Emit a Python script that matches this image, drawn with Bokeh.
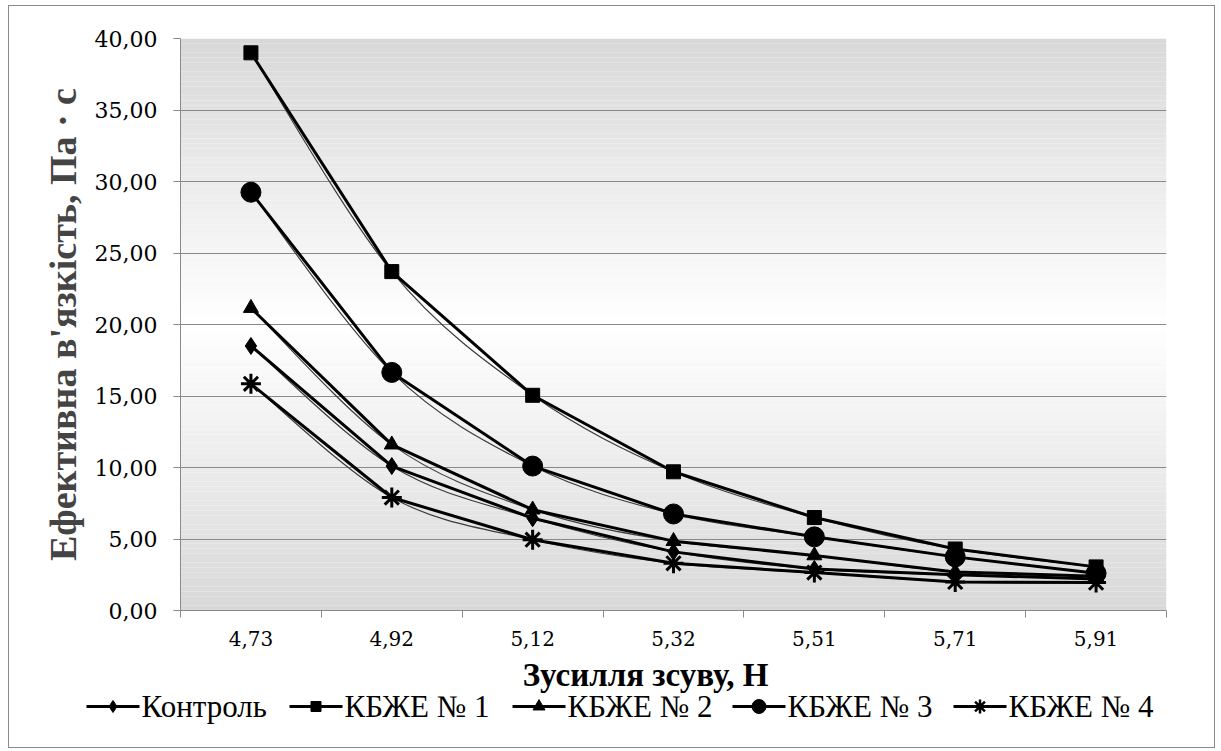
import numpy as np
from bokeh.plotting import figure
from bokeh.layouts import column, row
from bokeh.models import FixedTicker, Range1d, Label, ColumnDataSource
from bokeh.core.properties import value
from bokeh.embed import file_html
from bokeh.resources import INLINE

# ---- data ----
categories = ["4,73", "4,92", "5,12", "5,32", "5,51", "5,71", "5,91"]
series_names = ["Контроль", "КБЖЕ № 1", "КБЖЕ № 2", "КБЖЕ № 3", "КБЖЕ № 4"]
kontrol = [18.5, 10.1, 6.45, 4.1, 2.9, 2.5, 2.2]
kbzhe1 = [39.0, 23.7, 15.05, 9.7, 6.5, 4.3, 3.05]
kbzhe2 = [21.15, 11.6, 7.05, 4.85, 3.85, 2.7, 2.4]
kbzhe3 = [29.25, 16.65, 10.1, 6.75, 5.15, 3.75, 2.6]
kbzhe4 = [15.85, 7.9, 4.95, 3.3, 2.65, 2.0, 1.95]
y_ticks = [0, 5, 10, 15, 20, 25, 30, 35, 40]
y_tick_labels = ["0,00", "5,00", "10,00", "15,00", "20,00", "25,00", "30,00", "35,00", "40,00"]
x_title = "Зусилля зсуву, Н"
y_title = "Ефективна в'язкість, Па · с"

series = [kontrol, kbzhe1, kbzhe2, kbzhe3, kbzhe4]
markers = ["diamond", "square", "triangle", "circle", "asterisk"]
msizes = [17, 14, 15, 20, 20]
legend_msizes = [12, 10, 12, 14, 14]

xs = list(range(1, len(categories) + 1))

SERIF = "Liberation Serif"
W = 1205
H1 = 650
H2 = 741 - H1
FL, FT, FW, FH = 171, 32, 986, 572

p = figure(width=W, height=H1, output_backend="svg", toolbar_location=None,
           x_range=Range1d(0.5, len(categories) + 0.5), y_range=Range1d(0, 40),
           min_border_left=FL, min_border_top=FT,
           min_border_right=W - FL - FW, min_border_bottom=H1 - FT - FH)
p.outline_line_color = None
p.background_fill_color = "white"
p.border_fill_color = "white"

# gradient background (gray - white - gray)
nb = 120
edges = np.linspace(0, 40, nb + 1)
cols = []
for i in range(nb):
    t = (i + 0.5) / nb
    g = int(round(216 + (255 - 216) * (1 - abs(2 * t - 1))))
    cols.append("#%02x%02x%02x" % (g, g, g))
p.quad(left=0.5, right=len(categories) + 0.5, bottom=edges[:-1], top=edges[1:],
       fill_color=cols, line_color=None, level="image")

# grid
p.xgrid.visible = False
p.ygrid.ticker = FixedTicker(ticks=y_ticks)
p.ygrid.grid_line_color = "#8a8a8a"
p.ygrid.grid_line_width = 1
p.ygrid.level = "underlay"

# axes
p.yaxis.ticker = FixedTicker(ticks=y_ticks)
p.yaxis.major_label_overrides = {t: l for t, l in zip(y_ticks, y_tick_labels)}
p.yaxis.axis_line_color = "#8a8a8a"
p.yaxis.major_tick_line_color = "#8a8a8a"
p.yaxis.major_tick_out = 7
p.yaxis.major_tick_in = 0
p.yaxis.minor_tick_line_color = None
p.yaxis.major_label_text_font = "DejaVu Serif"
p.yaxis.major_label_text_font_size = "22px"
p.yaxis.major_label_text_color = "black"
p.yaxis.major_label_standoff = 16
p.yaxis.axis_label = y_title
p.yaxis.axis_label_text_font = SERIF
p.yaxis.axis_label_text_font_style = "bold"
p.yaxis.axis_label_text_font_size = "38px"
p.yaxis.axis_label_standoff = 8

p.xaxis.ticker = FixedTicker(ticks=xs, minor_ticks=[x - 0.5 for x in xs] + [xs[-1] + 0.5])
p.xaxis.major_label_overrides = {x: c for x, c in zip(xs, categories)}
p.xaxis.axis_line_color = "#8a8a8a"
p.xaxis.major_tick_line_color = None
p.xaxis.major_tick_out = 7
p.xaxis.minor_tick_line_color = "#8a8a8a"
p.xaxis.minor_tick_out = 7
p.xaxis.minor_tick_in = 0
p.xaxis.major_label_text_font = "DejaVu Serif"
p.xaxis.major_label_text_font_size = "20px"
p.xaxis.major_label_text_color = "black"
p.xaxis.major_label_standoff = 13

# thin smoothed lines through each series (Catmull-Rom as Bezier segments)
for vals in series:
    n = len(vals)
    px = [xs[0]] + xs + [xs[-1]]
    py = [vals[0]] + list(vals) + [vals[-1]]
    x0, y0, x1, y1, cx0, cy0, cx1, cy1 = [], [], [], [], [], [], [], []
    for i in range(n - 1):
        a, b, c, d = i, i + 1, i + 2, i + 3
        x0.append(px[b]); y0.append(py[b])
        x1.append(px[c]); y1.append(py[c])
        cx0.append(px[b] + (px[c] - px[a]) / 6.0)
        cy0.append(py[b] + (py[c] - py[a]) / 6.0)
        cx1.append(px[c] - (px[d] - px[b]) / 6.0)
        cy1.append(py[c] - (py[d] - py[b]) / 6.0)
    p.bezier(x0=x0, y0=y0, x1=x1, y1=y1, cx0=cx0, cy0=cy0, cx1=cx1, cy1=cy1,
             line_color="#3c3c3c", line_width=1.2)

for vals, m, s in zip(series, markers, msizes):
    p.line(xs, vals, line_color="black", line_width=3)
    p.scatter(xs, vals, marker=m, size=s, fill_color="black", line_color="black",
              line_width=3 if m == "asterisk" else 1)

# strip below the chart: x-axis title + legend (pixel coordinates)
p2 = figure(width=W, height=H2, output_backend="svg", toolbar_location=None,
            x_range=Range1d(0, W), y_range=Range1d(0, H2),
            x_axis_type=None, y_axis_type=None,
            min_border_left=0, min_border_right=0, min_border_top=0, min_border_bottom=0)
p2.outline_line_color = None
p2.xgrid.visible = False
p2.ygrid.visible = False
p2.border_fill_color = "white"
p2.background_fill_color = "white"

p2.add_layout(Label(x=636, y=H2 - 18, x_units="screen", y_units="screen",
                    text=x_title, text_align="center", text_baseline="middle",
                    text_font=SERIF, text_font_style="bold",
                    text_font_size="33px", text_color="black"))

# legend layout
glyph_w = 53
item_starts = [77, 280, 503, 723, 944]
legend_y = 41
leg = ColumnDataSource(dict(
    gx0=item_starts,
    gx1=[g + glyph_w for g in item_starts],
    gxc=[g + glyph_w / 2 for g in item_starts],
    tx=[g + glyph_w + 2 for g in item_starts],
    y=[legend_y] * len(item_starts),
    name=series_names,
    marker=markers,
    size=legend_msizes,
    lw=[2.5 if m == "asterisk" else 1 for m in markers],
))
p2.segment(x0="gx0", x1="gx1", y0="y", y1="y", source=leg, line_color="black", line_width=3)
p2.scatter(x="gxc", y="y", marker="marker", size="size", source=leg,
           fill_color="black", line_color="black", line_width="lw")
p2.text(x="tx", y="y", text="name", source=leg, text_font=value(SERIF),
        text_font_size="31px", text_baseline="middle", text_align="left",
        text_color="black")

layout = column(p, row(p2), spacing=0)
layout.margin = (5, 0, 0, 8)
layout.styles = {"border": "1px solid #8a8a8a", "background-color": "white"}

open("out.html", "w").write(file_html(layout, INLINE))
